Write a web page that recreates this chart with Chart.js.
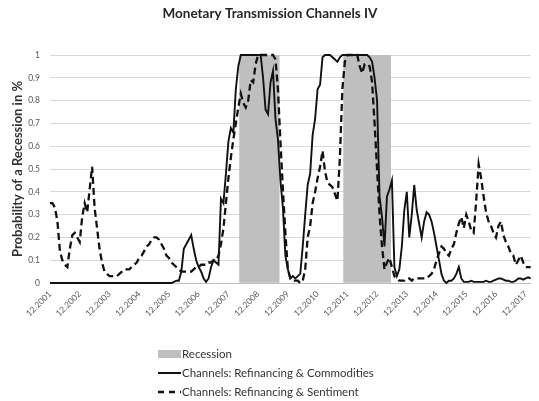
<!DOCTYPE html>
<html>
<head>
<meta charset="utf-8">
<title>Monetary Transmission Channels IV</title>
<script src="https://cdn.jsdelivr.net/npm/chart.js@4.4.1/dist/chart.umd.min.js"></script>
<style>
  html, body { margin: 0; padding: 0; background: #fff; }
  #wrap { position: relative; width: 539px; height: 401px; }
  #legend { position: absolute; left: 158px; top: 344px; font: 11.5px Lato, sans-serif; color: #333; }
  #legend .item { display: flex; align-items: center; height: 19px; }
  #legend svg { margin-right: 1px; }
</style>
</head>
<body>
<div id="wrap">
  <canvas id="chart" width="539" height="401"></canvas>
  <div id="legend"></div>
</div>
<script>
// tick labels shown on the x axis (one per year, December)
const tickLabels = ['12.2001', '12.2002', '12.2003', '12.2004', '12.2005', '12.2006', '12.2007', '12.2008',
    '12.2009', '12.2010', '12.2011', '12.2012', '12.2013', '12.2014', '12.2015', '12.2016', '12.2017'];

// recession periods (first and last month)
const recessionPeriods = [['05.2008', '08.2009'], ['11.2011', '05.2013']];

const seriesNames = ['Recession', 'Channels: Refinancing & Commodities', 'Channels: Refinancing & Sentiment'];

// monthly values from 12.2001, one row per year
const refinancingCommodities = [
    0, 0, 0, 0, 0, 0, 0, 0, 0, 0, 0, 0,
    0, 0, 0, 0, 0, 0, 0, 0, 0, 0, 0, 0,
    0, 0, 0, 0, 0, 0, 0, 0, 0, 0, 0, 0,
    0, 0, 0, 0, 0, 0, 0, 0, 0, 0, 0, 0,
    0, 0, 0.005, 0.01, 0.01, 0.05, 0.15, 0.17, 0.19, 0.21, 0.15, 0.1,
    0.07, 0.05, 0.02, 0.005, 0.02, 0.07, 0.1, 0.09, 0.08, 0.37, 0.35, 0.48,
    0.62, 0.68, 0.66, 0.85, 0.95, 1, 1, 1, 1, 1, 1, 1,
    1, 1, 0.9, 0.76, 0.74, 0.88, 0.93, 0.72, 0.63, 0.45, 0.33, 0.12,
    0.06, 0.02, 0.03, 0.02, 0.03, 0.04, 0.16, 0.3, 0.43, 0.48, 0.65, 0.72,
    0.85, 0.87, 0.99, 1, 1, 1, 0.99, 0.98, 0.97, 0.99, 1, 1,
    1, 1, 1, 1, 1, 1, 1, 1, 1, 0.99, 0.97, 0.9,
    0.8, 0.38, 0.29, 0.16, 0.38, 0.41, 0.45, 0.07, 0.03, 0.06, 0.16, 0.32,
    0.4, 0.2, 0.3, 0.43, 0.32, 0.26, 0.2, 0.27, 0.31, 0.3, 0.27, 0.22,
    0.16, 0.1, 0.04, 0.01, 0, 0.01, 0.01, 0.02, 0.04, 0.07, 0.02, 0.005,
    0.005, 0.005, 0.01, 0.005, 0.005, 0.005, 0.005, 0.005, 0.01, 0.005, 0.005, 0.01,
    0.015, 0.02, 0.02, 0.015, 0.01, 0.01, 0.005, 0.005, 0.01, 0.02, 0.02, 0.015,
    0.02, 0.025, 0.02
];

const refinancingSentiment = [
    0.35, 0.35, 0.33, 0.27, 0.14, 0.1, 0.08, 0.07, 0.15, 0.21, 0.22, 0.2,
    0.18, 0.29, 0.35, 0.31, 0.41, 0.51, 0.33, 0.24, 0.15, 0.09, 0.05, 0.04,
    0.03, 0.03, 0.03, 0.03, 0.04, 0.05, 0.06, 0.06, 0.06, 0.07, 0.08, 0.09,
    0.11, 0.12, 0.14, 0.16, 0.17, 0.19, 0.2, 0.2, 0.19, 0.17, 0.15, 0.12,
    0.11, 0.09, 0.08, 0.07, 0.06, 0.05, 0.05, 0.05, 0.05, 0.05, 0.06, 0.07,
    0.07, 0.08, 0.08, 0.08, 0.09, 0.09, 0.1, 0.1, 0.12, 0.17, 0.24, 0.35,
    0.46, 0.55, 0.63, 0.7, 0.77, 0.83, 0.79, 0.77, 0.8, 0.89, 0.88, 0.96,
    1, 1, 1, 1, 1, 1, 1, 0.98, 0.85, 0.62, 0.41, 0.22,
    0.06, 0.02, 0.01, 0.01, 0.01, 0, 0.01, 0.06, 0.2, 0.25, 0.35, 0.4,
    0.46, 0.51, 0.58, 0.49, 0.44, 0.43, 0.42, 0.39, 0.36, 0.55, 0.85, 0.97,
    1, 1, 1, 1, 1, 0.95, 0.92, 0.96, 0.96, 0.95, 0.88, 0.7,
    0.5, 0.3, 0.16, 0.06, 0.09, 0.11, 0.07, 0.03, 0.02, 0.01, 0.01, 0.01,
    0.02, 0.02, 0.01, 0.02, 0.02, 0.02, 0.02, 0.02, 0.02, 0.03, 0.04, 0.06,
    0.1, 0.13, 0.16, 0.15, 0.13, 0.12, 0.15, 0.17, 0.22, 0.26, 0.29, 0.24,
    0.3, 0.27, 0.23, 0.22, 0.36, 0.52, 0.46, 0.38, 0.31, 0.27, 0.25, 0.22,
    0.2, 0.25, 0.27, 0.21, 0.18, 0.16, 0.13, 0.12, 0.08, 0.1, 0.12, 0.09,
    0.07, 0.07, 0.07
];

// month labels MM.YYYY starting 12.2001
const months = refinancingCommodities.map((v, i) => {
    const t = 2001 * 12 + 11 + i;
    return String(t % 12 + 1).padStart(2, '0') + '.' + Math.floor(t / 12);
});

const recession = months.map(() => null);
recessionPeriods.forEach(([from, to]) => {
    for (let i = months.indexOf(from); i <= months.indexOf(to); i++) recession[i] = 1;
});

const GRAY = '#bfbfbf';
const FONT = 'Lato, "Liberation Sans", sans-serif';

new Chart(document.getElementById('chart'), {
    data: {
        labels: months,
        datasets: [
            {
                type: 'bar',
                label: seriesNames[0],
                data: recession,
                backgroundColor: GRAY,
                borderWidth: 0,
                barPercentage: 1,
                categoryPercentage: 1,
                order: 3
            },
            {
                type: 'line',
                label: seriesNames[1],
                data: refinancingCommodities,
                borderColor: '#111',
                borderWidth: 1.9,
                pointRadius: 0,
                tension: 0,
                clip: 4,
                order: 1
            },
            {
                type: 'line',
                label: seriesNames[2],
                data: refinancingSentiment,
                borderColor: '#111',
                borderWidth: 2.3,
                borderDash: [7, 4],
                pointRadius: 0,
                tension: 0,
                clip: 4,
                order: 2
            }
        ]
    },
    options: {
        responsive: false,
        animation: false,
        layout: { padding: { left: 7, right: 6, top: 0, bottom: 70 } },
        plugins: {
            legend: { display: false },
            tooltip: { enabled: false },
            title: {
                display: true,
                text: 'Monetary Transmission Channels IV',
                color: '#262626',
                font: { family: FONT, size: 13.5, weight: 'bold' },
                padding: { top: 6, bottom: 32.8 }
            }
        },
        scales: {
            x: {
                type: 'category',
                offset: false,
                grid: { display: true, drawOnChartArea: false, drawTicks: false },
                border: { display: true, color: GRAY, width: 1 },
                ticks: {
                    autoSkip: false,
                    minRotation: 45,
                    maxRotation: 45,
                    padding: 6,
                    color: '#595959',
                    font: { family: FONT, size: 8.5 },
                    callback: (v, i) => tickLabels.includes(months[i]) ? months[i] : null
                },
                afterFit: s => { s.height = 48; }
            },
            y: {
                min: 0,
                max: 1,
                grid: { color: '#d9d9d9', drawTicks: false },
                border: { display: false },
                ticks: {
                    stepSize: 0.1,
                    padding: 10,
                    color: '#595959',
                    font: { family: FONT, size: 8.5 },
                    callback: v => String(+v.toFixed(1))
                },
                title: {
                    display: true,
                    text: 'Probability of a Recession in %',
                    color: '#333',
                    font: { family: FONT, size: 13, weight: 'bold' },
                    padding: { top: 3, bottom: 4 }
                },
                afterFit: s => { s.width = 43; }
            }
        }
    }
});

// legend below the plot
const swatches = [
    '<svg width="23" height="8"><rect x="0" y="0" width="23" height="8" fill="' + GRAY + '"/></svg>',
    '<svg width="23" height="8"><line x1="0" y1="4" x2="23" y2="4" stroke="#111" stroke-width="2"/></svg>',
    '<svg width="23" height="8"><line x1="0" y1="4" x2="23" y2="4" stroke="#111" stroke-width="2.3" stroke-dasharray="6 5"/></svg>'
];
document.getElementById('legend').innerHTML = seriesNames
    .map((name, i) => '<div class="item">' + swatches[i] + '<span>' + name + '</span></div>')
    .join('');
</script>
</body>
</html>
